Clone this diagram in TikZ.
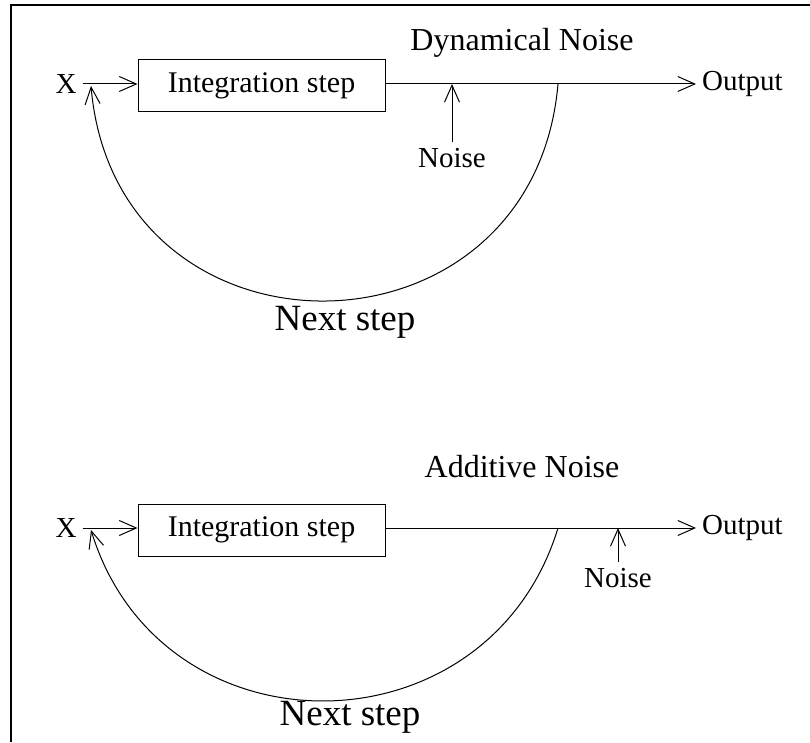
\documentclass[tikz,border=0pt]{standalone}
\usepackage{fontspec}
\setmainfont{Liberation Serif}
\usetikzlibrary{arrows.meta,positioning}

\begin{document}
\begin{tikzpicture}[x=1pt,y=1pt,
    blk/.style={draw,line width=1pt,minimum width=247pt,minimum height=52pt,inner sep=0pt,font=\fontsize{30}{32}\selectfont},
    lbl/.style={inner sep=6pt,font=\fontsize{29}{31}\selectfont},
    ttl/.style={inner sep=0pt,font=\fontsize{32}{36}\selectfont},
    nxt/.style={inner sep=0pt,font=\fontsize{37}{40}\selectfont},
    arr/.style={-{Straight Barb[length=17pt,width=15pt,line width=1pt]},line width=1pt}]
  \useasboundingbox (0,0) rectangle (810,742);
  \draw[line width=2.5pt] (11,0) -- (11,737) -- (810,737);
  % dynamical noise
  \node[ttl] (t1) at (522,699) {Dynamical Noise};
  \node[lbl] (x1) at (66,658) {X};
  \node[blk] (b1) at (261.5,656) {Integration step};
  \node[lbl,anchor=west] (o1) at (696,658) {Output};
  \node[lbl] (n1) at (452,584) {Noise};
  \node[nxt] (s1) at (345,420) {Next step};
  \coordinate (j1) at (558,658);
  \coordinate (f1) at (91,656);
  \draw[arr] (x1) -- (x1 -| b1.west);
  \draw[arr] (b1.east |- o1.west) -- (o1.west);
  \draw[arr] (n1.north) -- (n1.north |- o1.west);
  \draw[arr] (j1) to[out=-95,in=-85,looseness=1.58] (f1);
  % additive noise
  \node[ttl] (t2) at (522,275) {Additive Noise};
  \node[lbl] (x2) at (66,214) {X};
  \node[blk] (b2) at (261.5,212) {Integration step};
  \node[lbl,anchor=west] (o2) at (696,214) {Output};
  \node[lbl] (n2) at (618,164) {Noise};
  \node[nxt] (s2) at (350,25) {Next step};
  \coordinate (j2) at (558,214);
  \coordinate (f2) at (91,212);
  \draw[arr] (x2) -- (x2 -| b2.west);
  \draw[arr] (b2.east |- o2.west) -- (o2.west);
  \draw[arr] (n2.north) -- (n2.north |- o2.west);
  \draw[arr] (j2) to[out=-107,in=-73,looseness=1.31] (f2);
\end{tikzpicture}
\end{document}
